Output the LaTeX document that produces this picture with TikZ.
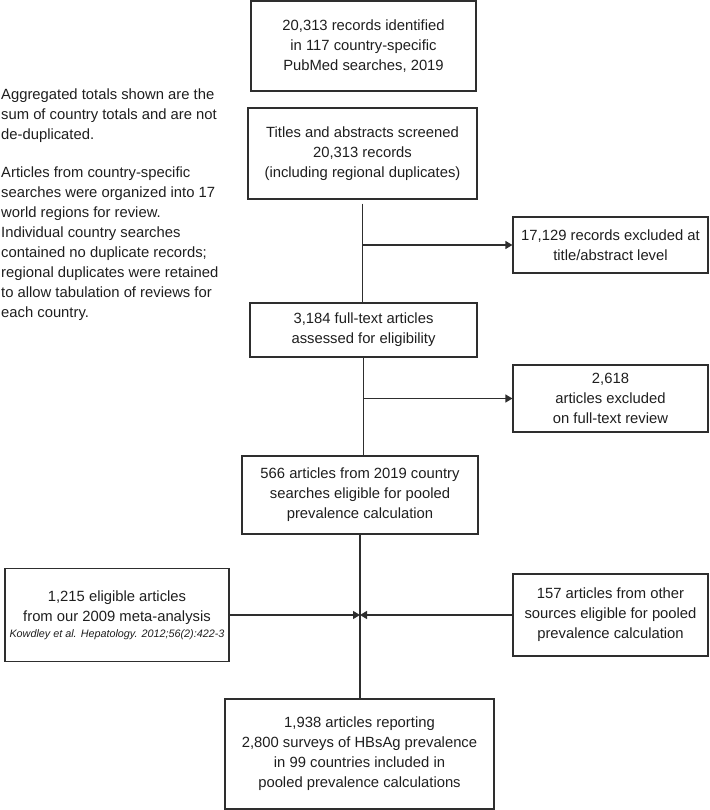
\documentclass[tikz,border=0pt]{standalone}
\usepackage{fontspec}
\setmainfont{Liberation Sans}
\usetikzlibrary{arrows.meta}

\definecolor{trait}{HTML}{2E2E2E}
\definecolor{texte}{HTML}{1E1E1E}

\begin{document}
\begin{tikzpicture}[x=1pt, y=-1pt,
    boite/.style={draw=trait, line width=1.2pt, inner sep=0pt, align=center,
        text=texte, font=\fontsize{14.8}{20}\selectfont},
    lien/.style={draw=trait, line width=1.2pt},
    fleche/.style={lien, -{Triangle[length=7pt,width=8pt]}}]

    \useasboundingbox (0,0) rectangle (709,810);

    % Colonne centrale
    \node[boite, minimum width=225pt, minimum height=90pt] (ident) at (363.5,46)
        {20,313 records identified\\ in 117 country-specific\\ PubMed searches, 2019};
    \node[boite, minimum width=229pt, minimum height=91pt] (tri) at (362.5,153.5)
        {Titles and abstracts screened\\ 20,313 records\\ (including regional duplicates)};
    \node[boite, minimum width=227pt, minimum height=54pt] (texteint) at (363.5,330)
        {3,184 full-text articles\\ assessed for eligibility};
    \node[boite, minimum width=236pt, minimum height=78pt] (eligible) at (360,495)
        {566 articles from 2019 country\\ searches eligible for pooled\\ prevalence calculation};
    \node[boite, minimum width=269pt, minimum height=110pt] (final) at (359.5,754)
        {1,938 articles reporting\\ 2,800 surveys of HBsAg prevalence\\ in 99 countries included in\\ pooled prevalence calculations};

    % Exclusions
    \node[boite, minimum width=195pt, minimum height=56pt] (excl1) at (610.5,245)
        {17,129 records excluded at\\ title/abstract level};
    \node[boite, minimum width=195pt, minimum height=67pt] (excl2) at (610.5,398.5)
        {2,618\\ articles excluded\\ on full-text review};

    % Autres sources
    \node[boite, minimum width=224pt, minimum height=93pt] (meta) at (117,615)
        {1,215 eligible articles\\ from our 2009 meta-analysis\\[-4pt]
        {\fontsize{10.8}{14}\selectfont\itshape Kowdley et al. Hepatology. 2012;56(2):422-3}};
    \node[boite, minimum width=195pt, minimum height=82pt] (autres) at (610.5,615)
        {157 articles from other\\ sources eligible for pooled\\ prevalence calculation};

    % Note a gauche
    \node[anchor=north west, inner sep=0pt, align=left, text=texte,
        font=\fontsize{14.8}{20}\selectfont] (note) at (1,88.5)
        {Aggregated totals shown are the\\ sum of country totals and are not\\ de-duplicated.\\[18pt]
        Articles from country-specific\\ searches were organized into 17\\ world regions for review.\\
        Individual country searches\\ contained no duplicate records;\\ regional duplicates were retained\\
        to allow tabulation of reviews for\\ each country.};

    % Liaisons
    \draw[lien] ([yshift=-4pt]tri.south) -- (tri.south |- texteint.north);
    \draw[fleche] (tri.south |- excl1.west) -- (excl1.west);
    \draw[lien] (texteint.south) -- (texteint.south |- eligible.north);
    \draw[fleche] (texteint.south |- excl2.west) -- (excl2.west);
    \draw[lien] (eligible.south) -- (eligible.south |- final.north);
    \coordinate (jonction) at (eligible.south |- autres.west);
    \draw[fleche] (meta.east) -- (jonction);
    \draw[fleche] (autres.west) -- (jonction);
\end{tikzpicture}
\end{document}
